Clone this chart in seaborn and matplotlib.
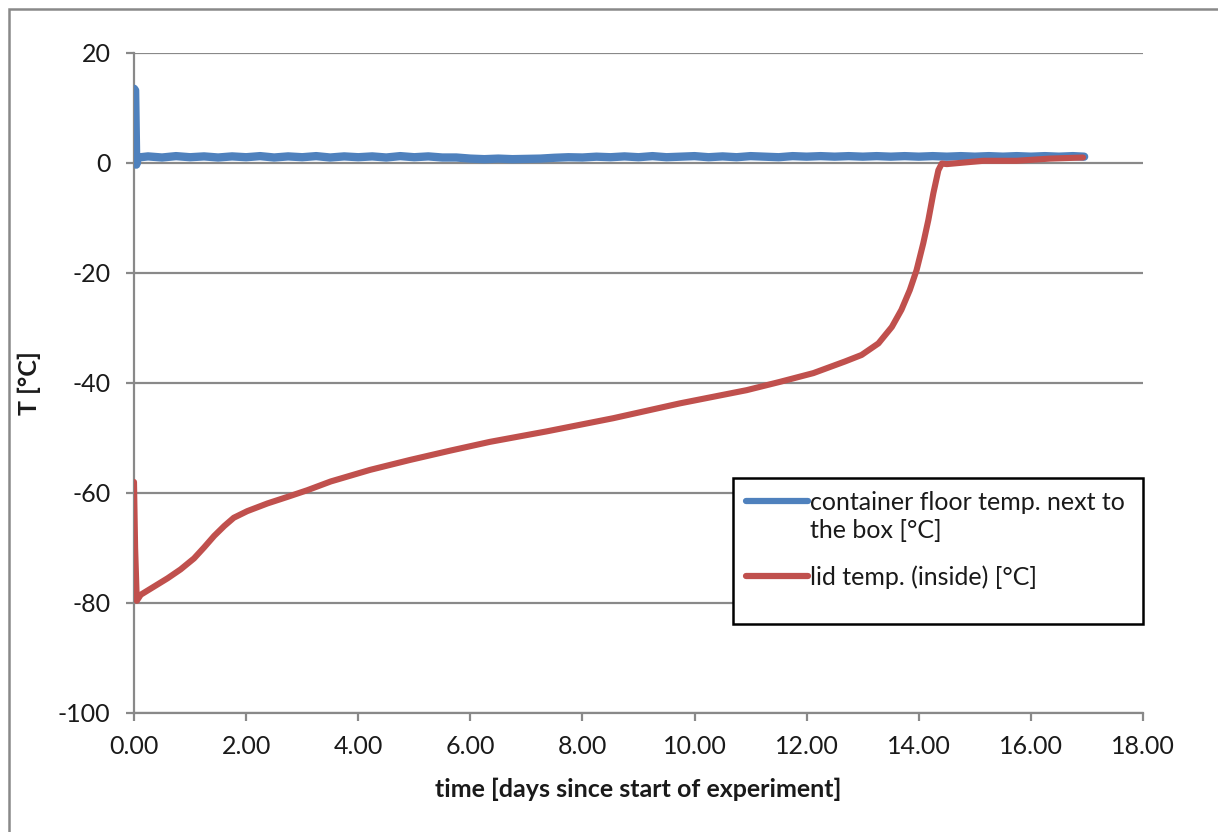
import matplotlib
matplotlib.use("Agg")
import matplotlib.pyplot as plt
from matplotlib.patches import Rectangle
import seaborn as sns
import pandas as pd

# ---------------- data ----------------
blue_label = "container floor temp. next to\nthe box [°C]"
red_label = "lid temp. (inside) [°C]"

blue_t = [0.00, 0.02, 0.04, 0.07,
          0.25, 0.50, 0.75, 1.00, 1.25, 1.50, 1.75, 2.00, 2.25, 2.50, 2.75, 3.00,
          3.25, 3.50, 3.75, 4.00, 4.25, 4.50, 4.75, 5.00, 5.25, 5.50, 5.75, 6.00,
          6.25, 6.50, 6.75, 7.00, 7.25, 7.50, 7.75, 8.00, 8.25, 8.50, 8.75, 9.00,
          9.25, 9.50, 9.75, 10.00, 10.25, 10.50, 10.75, 11.00, 11.25, 11.50, 11.75,
          12.00, 12.25, 12.50, 12.75, 13.00, 13.25, 13.50, 13.75, 14.00, 14.25,
          14.50, 14.75, 15.00, 15.25, 15.50, 15.75, 16.00, 16.25, 16.50, 16.75, 16.95]
blue_v = [13.5, 13.2, -0.3, 1.0,
          1.2, 1.0, 1.25, 1.05, 1.2, 1.0, 1.2, 1.05, 1.25, 1.0, 1.2, 1.05,
          1.25, 1.0, 1.2, 1.05, 1.2, 1.0, 1.25, 1.05, 1.2, 1.0, 1.0, 0.8,
          0.7, 0.8, 0.7, 0.75, 0.8, 0.95, 1.05, 1.0, 1.15, 1.05, 1.2, 1.05,
          1.25, 1.05, 1.15, 1.25, 1.05, 1.2, 1.05, 1.25, 1.15, 1.05, 1.25,
          1.15, 1.25, 1.15, 1.25, 1.15, 1.25, 1.15, 1.25, 1.15, 1.25,
          1.15, 1.25, 1.15, 1.25, 1.15, 1.25, 1.15, 1.25, 1.15, 1.25, 1.15]

red_t = [0.00, 0.02, 0.05, 0.12, 0.36, 0.60, 0.83, 1.07, 1.25, 1.43, 1.61, 1.78,
         2.02, 2.38, 2.74, 3.09, 3.51, 4.21, 4.92, 5.64, 6.35, 7.36, 8.55, 9.74,
         10.93, 11.52, 12.12, 12.68, 12.98, 13.28, 13.52, 13.69, 13.84, 13.96,
         14.08, 14.17, 14.26, 14.35, 14.41, 14.50, 15.15, 15.74, 16.34, 16.93]
red_v = [-58.0, -70.0, -79.6, -78.5, -77.0, -75.5, -73.9, -71.9, -69.9, -67.8,
         -66.0, -64.5, -63.3, -61.9, -60.7, -59.5, -57.9, -55.8, -54.0, -52.3,
         -50.7, -48.8, -46.4, -43.7, -41.3, -39.8, -38.2, -36.1, -34.9, -32.8,
         -29.8, -26.7, -23.1, -19.5, -14.6, -10.4, -5.5, -1.3, -0.1, -0.2,
         0.4, 0.4, 0.8, 1.0]

x_ticks = [0, 2, 4, 6, 8, 10, 12, 14, 16, 18]
y_ticks = [-100, -80, -60, -40, -20, 0, 20]
x_label = "time [days since start of experiment]"
y_label = "T [°C]"

BLUE = "#4F81BD"
RED = "#C0504D"
GREY = "#898989"
TXT = "#1a1a1a"
FS = 18

# ---------------- plot ----------------
sns.set_style("white")
plt.rcParams["font.family"] = ["Lato", "DejaVu Sans"]

fig = plt.figure(figsize=(12.18, 8.32), dpi=100)
ax = fig.add_axes([134 / 1218, 1 - 713 / 832, (1143 - 134) / 1218, (713 - 53) / 832])

df_b = pd.DataFrame({"t": blue_t, "T": blue_v})
df_r = pd.DataFrame({"t": red_t, "T": red_v})

sns.lineplot(data=df_b, x="t", y="T", ax=ax, color=BLUE, linewidth=6.0,
             label=blue_label, estimator=None, sort=False, zorder=3,
             solid_capstyle="round", solid_joinstyle="round")
sns.lineplot(data=df_r, x="t", y="T", ax=ax, color=RED, linewidth=4.4,
             label=red_label, estimator=None, sort=False, zorder=4,
             solid_capstyle="round", solid_joinstyle="round")

ax.set_xlim(0, 18)
ax.set_ylim(-100, 20)
ax.set_xticks(x_ticks)
ax.set_xticklabels([f"{v:.2f}" for v in x_ticks])
ax.set_yticks(y_ticks)
ax.set_yticklabels([str(v) for v in y_ticks])

ax.yaxis.grid(True, color=GREY, linewidth=1.6)
ax.xaxis.grid(False)
ax.set_axisbelow(True)

for s in ["top", "right"]:
    ax.spines[s].set_visible(False)
for s in ["left", "bottom"]:
    ax.spines[s].set_color(GREY)
    ax.spines[s].set_linewidth(1.6)

ax.tick_params(axis="both", which="major", direction="out", length=6, width=1.6,
               color=GREY, labelsize=FS, labelcolor=TXT)
ax.tick_params(axis="y", pad=11, left=True)
ax.tick_params(axis="x", pad=10, bottom=True)

ax.set_xlabel(x_label, fontsize=FS, fontweight="bold", labelpad=14, color=TXT)
ax.set_ylabel(y_label, fontsize=FS, fontweight="bold", labelpad=12, color=TXT)

# legend box
box = Rectangle((0.594, 0.135), 0.406, 0.221, transform=ax.transAxes,
                facecolor="white", edgecolor="black", linewidth=1.8, zorder=5,
                clip_on=False)
ax.add_patch(box)
leg = ax.legend(loc="upper left", bbox_to_anchor=(0.597, 0.352), frameon=False,
                fontsize=FS, handlelength=2.45, handletextpad=0.1,
                labelspacing=0.92, borderaxespad=0.0)
leg.set_zorder(6)
for txt in leg.get_texts():
    txt.set_color(TXT)
    txt.set_linespacing(1.3)
lines = leg.get_lines()
for line in lines:
    line.set_linewidth(4.5)
    line.set_solid_capstyle("round")
# align the blue handle with the first line of its wrapped label
yb = lines[0].get_ydata()
lines[0].set_ydata([v + 12 for v in yb])

# outer chart-area border
fig.patches.append(Rectangle((9 / 1218, -0.1), 1.2, 1.1 - 9 / 832,
                             transform=fig.transFigure, fill=False,
                             edgecolor=GREY, linewidth=1.8))

fig.savefig("out.png", dpi=100)
